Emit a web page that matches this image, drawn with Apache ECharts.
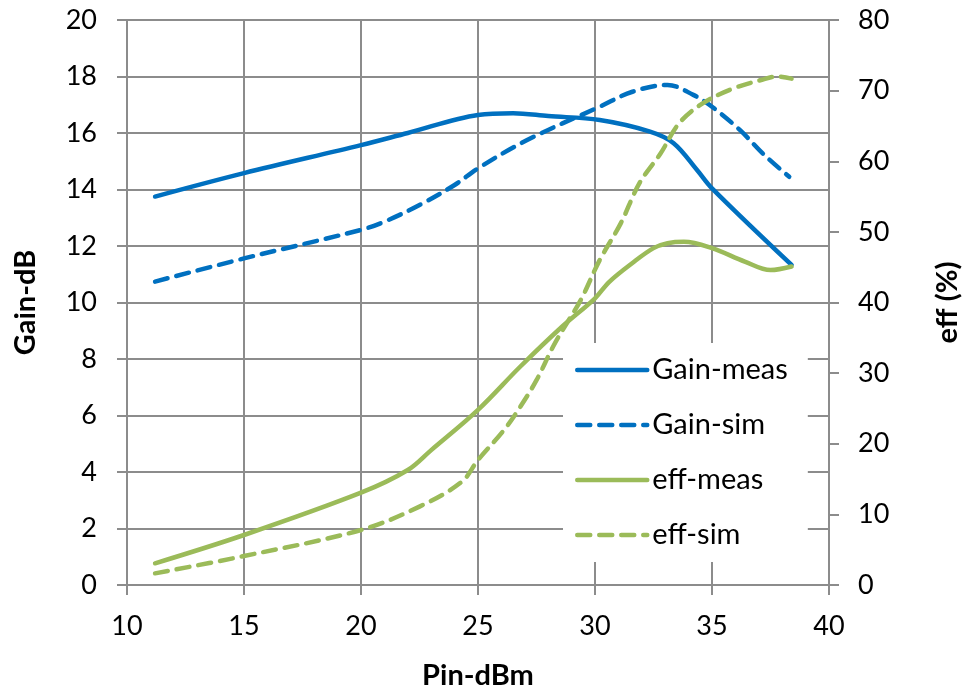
<!DOCTYPE html>
<html>
<head>
<meta charset="utf-8">
<title>Gain and efficiency vs input power</title>
<script src="https://cdn.jsdelivr.net/npm/echarts@6/dist/echarts.min.js"></script>
<style>
  html, body { margin: 0; padding: 0; background: #ffffff; }
  #chart { width: 965px; height: 687px; }
</style>
</head>
<body>
<div id="chart"></div>
<script>
// Measured and simulated gain (dB) against input power (dBm)
const gainMeasPin = [11.2, 15, 20, 22, 25, 26.5, 28, 30.2, 32.35, 33.36, 34.36, 35, 38.4];
const gainMeas    = [13.75, 14.58, 15.57, 16.0, 16.64, 16.70, 16.6, 16.46, 16.05, 15.64, 14.69, 14.04, 11.33];

const gainSimPin  = [11.2, 15, 20, 21, 22.5, 24, 25, 27.1, 30.2, 31.6, 33.1, 34.2, 35, 36.2, 37.2, 38.3];
const gainSim     = [10.74, 11.56, 12.57, 12.86, 13.45, 14.16, 14.75, 15.75, 16.93, 17.46, 17.70, 17.35, 16.93, 16.1, 15.25, 14.45];

// Measured and simulated drain efficiency (%)
const effMeasPin  = [11.2, 15, 20, 22, 23, 25, 26.8, 28.6, 30, 30.6, 31.6, 32.5, 33.1, 33.8, 35, 36.4, 37.5, 38.4];
const effMeas     = [3.07, 7.08, 13.07, 16.28, 19.1, 24.8, 30.9, 36.6, 40.6, 42.9, 45.6, 47.7, 48.4, 48.6, 47.7, 45.8, 44.6, 45.1];

const effSimPin   = [11.2, 15, 20, 22.5, 24.3, 25, 26.1, 26.8, 27.5, 28.2, 28.8, 29.4, 30.2, 31.1, 31.9, 32.8, 33.6, 34.6, 35.9, 37.1, 37.8, 38.4];
const effSim      = [1.65, 4.1, 7.79, 11.1, 14.6, 17.7, 21.9, 25.2, 29.0, 33.7, 37.1, 40.4, 46.0, 51.2, 56.9, 61.1, 65.4, 68.2, 70.3, 71.5, 72.0, 71.7];

const seriesNames = ['Gain-meas', 'Gain-sim', 'eff-meas', 'eff-sim'];
const xTitle = 'Pin-dBm';
const yLeftTitle = 'Gain-dB';
const yRightTitle = 'eff (%)';

const BLUE = '#0070C0';
const GREEN = '#9BBB59';
const GRID_GRAY = '#8c8c8c';
const FONT = 'Lato';
const DASH = [13, 9];

const pairs = (xs, ys) => xs.map((x, i) => [x, ys[i]]);

const axisLabelStyle = { color: '#000', fontFamily: FONT, fontSize: 27 };
const axisNameStyle = { color: '#000', fontFamily: FONT, fontSize: 29, fontWeight: 'bold' };
const grayLine = { color: GRID_GRAY, width: 2 };

function lineSeries(name, data, color, dashed, yAxisIndex) {
  return {
    name: name,
    type: 'line',
    yAxisIndex: yAxisIndex,
    data: data,
    smooth: 0.35,
    symbol: 'none',
    showSymbol: false,
    lineStyle: {
      color: color,
      width: 4.5,
      type: dashed ? DASH : 'solid',
      cap: 'round',
      join: 'round'
    },
    itemStyle: { color: color },
    z: 3
  };
}

const chart = echarts.init(document.getElementById('chart'), null, { renderer: 'canvas' });

chart.setOption({
  animation: false,
  backgroundColor: '#ffffff',
  grid: { left: 127, right: 136, top: 20, bottom: 102, containLabel: false, outerBoundsMode: 'none' },
  xAxis: {
    type: 'value',
    min: 10, max: 40, interval: 5,
    name: xTitle,
    nameLocation: 'middle',
    nameGap: 76,
    nameTextStyle: axisNameStyle,
    axisLine: { show: true, lineStyle: grayLine },
    axisTick: { show: true, inside: false, length: 10, lineStyle: grayLine },
    axisLabel: Object.assign({ margin: 28 }, axisLabelStyle),
    splitLine: { show: true, lineStyle: grayLine }
  },
  yAxis: [
    {
      type: 'value',
      position: 'left',
      min: 0, max: 20, interval: 2,
      name: yLeftTitle,
      nameLocation: 'middle',
      nameRotate: 90,
      nameGap: 87,
      nameTextStyle: axisNameStyle,
      axisLine: { show: true, lineStyle: grayLine },
      axisTick: { show: true, inside: false, length: 10, lineStyle: grayLine },
      axisLabel: Object.assign({ margin: 30 }, axisLabelStyle),
      splitLine: { show: true, lineStyle: grayLine }
    },
    {
      type: 'value',
      position: 'right',
      min: 0, max: 80, interval: 10,
      name: yRightTitle,
      nameLocation: 'middle',
      nameRotate: 90,
      nameGap: 104,
      nameTextStyle: axisNameStyle,
      axisLine: { show: true, lineStyle: grayLine },
      axisTick: { show: true, inside: false, length: 10, lineStyle: grayLine },
      axisLabel: Object.assign({ margin: 29 }, axisLabelStyle),
      splitLine: { show: false }
    }
  ],
  legend: {
    orient: 'vertical',
    left: 563,
    top: 343,
    padding: [12, 20, 12, 12],
    backgroundColor: '#ffffff',
    itemWidth: 70,
    itemHeight: 14,
    itemGap: 25,
    data: seriesNames,
    itemStyle: { opacity: 0 },
    lineStyle: { width: 4.5, cap: 'round' },
    textStyle: { color: '#000', fontFamily: FONT, fontSize: 29, lineHeight: 30 },
    z: 10
  },
  series: [
    lineSeries(seriesNames[0], pairs(gainMeasPin, gainMeas), BLUE, false, 0),
    lineSeries(seriesNames[1], pairs(gainSimPin, gainSim), BLUE, true, 0),
    lineSeries(seriesNames[2], pairs(effMeasPin, effMeas), GREEN, false, 1),
    lineSeries(seriesNames[3], pairs(effSimPin, effSim), GREEN, true, 1)
  ]
});
</script>
</body>
</html>
